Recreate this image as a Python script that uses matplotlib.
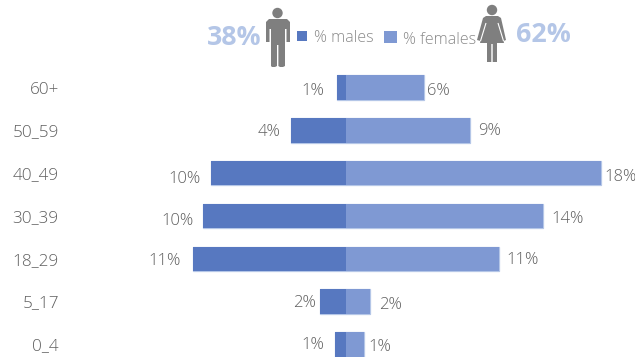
import matplotlib.pyplot as plt
from matplotlib.patches import Circle, Polygon, Rectangle

plt.rcParams["font.family"] = ["Open Sans", "DejaVu Sans"]

ages = ["60+", "50_59", "40_49", "30_39", "18_29", "5_17", "0_4"]
males = [0.6, 3.9, 9.55, 10.1, 10.8, 1.8, 0.8]
females = [5.5, 8.75, 18.0, 13.9, 10.8, 1.7, 1.3]

male_share = 38
female_share = 62

male_color = "#5778c0"
female_color = "#7f99d3"
edge_color = "#b4c6e7"
text_color = "#5f5f5f"
legend_color = "#8a8a8a"
icon_color = "#7f7f7f"

# gap to the bar end and vertical shift of each value label, in pixels
male_gap = [13, 10, 10, 9, 12, 5, 10]
male_shift = [-3, -2, -6, -5, -2, -1, -1]
female_gap = [3, 8, 3, 8, 7, 9, 4]
female_shift = [-3, -1, -4, -3, -1, -3, -3]

fig = plt.figure(figsize=(6.35, 3.57), dpi=100, facecolor="white")

# bars start at x=65 px; zero sits at 346 px and one percent is 14.17 px
ax = fig.add_axes([65 / 635, 0, 570 / 635, 1])
ax.set_xlim((65 - 346) / 14.17, (635 - 346) / 14.17)
ax.set_ylim((357 - 87.6) / 42.8, (0 - 87.6) / 42.8)
ypos = list(range(len(ages)))

# outlined bars go underneath so the fills hide the outline along the zero line
ax.barh(ypos, [-v for v in males], height=0.57, color=edge_color,
        edgecolor=edge_color, linewidth=0.9, zorder=1)
ax.barh(ypos, females, height=0.57, color=edge_color,
        edgecolor=edge_color, linewidth=0.9, zorder=1)
ax.barh(ypos, [-v for v in males], height=0.57, color=male_color,
        linewidth=0, zorder=2, label="% males")
ax.barh(ypos, females, height=0.57, color=female_color,
        linewidth=0, zorder=2, label="% females")

ax.set_yticks(ypos)
ax.set_yticklabels(ages, fontsize=12.3, color=text_color, fontweight="light")
ax.tick_params(axis="y", length=0, pad=4.5)
ax.set_xticks([])
for side in ax.spines.values():
    side.set_visible(False)

for i in ypos:
    ax.annotate(f"{males[i]:.0f}%", (-males[i], i),
                xytext=(-male_gap[i], male_shift[i]), textcoords="offset pixels",
                ha="right", va="center", fontsize=12, color=text_color,
                fontweight="light", annotation_clip=False)
    ax.annotate(f"{females[i]:.0f}%", (females[i], i),
                xytext=(female_gap[i], female_shift[i]), textcoords="offset pixels",
                ha="left", va="center", fontsize=12, color=text_color,
                fontweight="light", annotation_clip=False)

# header with legend, icons and totals, laid out in pixels
top = fig.add_axes([0, 0, 1, 1], facecolor="none")
top.set_xlim(0, 635)
top.set_ylim(357, 0)
top.axis("off")

top.add_patch(Rectangle((297, 31), 10, 10, color=male_color, lw=0))
top.add_patch(Rectangle((384, 31), 12.5, 12, color=female_color, lw=0))
top.text(314, 38, "% males", fontsize=11.5, color=legend_color, va="center",
         fontweight="light")
top.text(403, 40, "% females", fontsize=11.5, color=legend_color, va="center",
         fontweight="light")
top.text(207, 38, f"{male_share}%", fontsize=19.3, color=edge_color, va="center",
         ha="left", fontweight="bold")
top.text(516, 35, f"{female_share}%", fontsize=19.3, color=edge_color, va="center",
         ha="left", fontweight="bold")

# man
top.add_patch(Circle((277.5, 13), 5.2, color=icon_color, lw=0))
top.add_patch(Polygon([(269, 19), (287, 19), (290, 22), (290, 42), (286.5, 42),
                       (286.5, 29), (285, 29), (285, 66), (283, 67), (280, 67),
                       (278.4, 66), (278.4, 45), (277, 45), (277, 66), (275, 67),
                       (272, 67), (271, 66), (271, 29), (269.5, 29), (269.5, 42),
                       (266, 42), (266, 22)], closed=True, color=icon_color, lw=0))

# woman: silhouette with arms cut out by white strokes, legs split below the dress
top.add_patch(Circle((492, 10), 5.2, color=icon_color, lw=0))
top.add_patch(Polygon([(486, 16), (498, 16), (501, 18), (506, 40), (503.5, 41),
                       (504, 43), (497, 43), (497, 62), (492.7, 62), (492.7, 44),
                       (491.3, 44), (491.3, 62), (487, 62), (487, 43), (480, 43),
                       (480.5, 41), (477, 40), (483, 18)],
                      closed=True, color=icon_color, lw=0))
top.plot([486, 480.5], [23, 41], color="white", lw=0.8, solid_capstyle="butt")
top.plot([498, 503.5], [23, 41], color="white", lw=0.8, solid_capstyle="butt")

plt.savefig("out.png", dpi=100, facecolor="white")
